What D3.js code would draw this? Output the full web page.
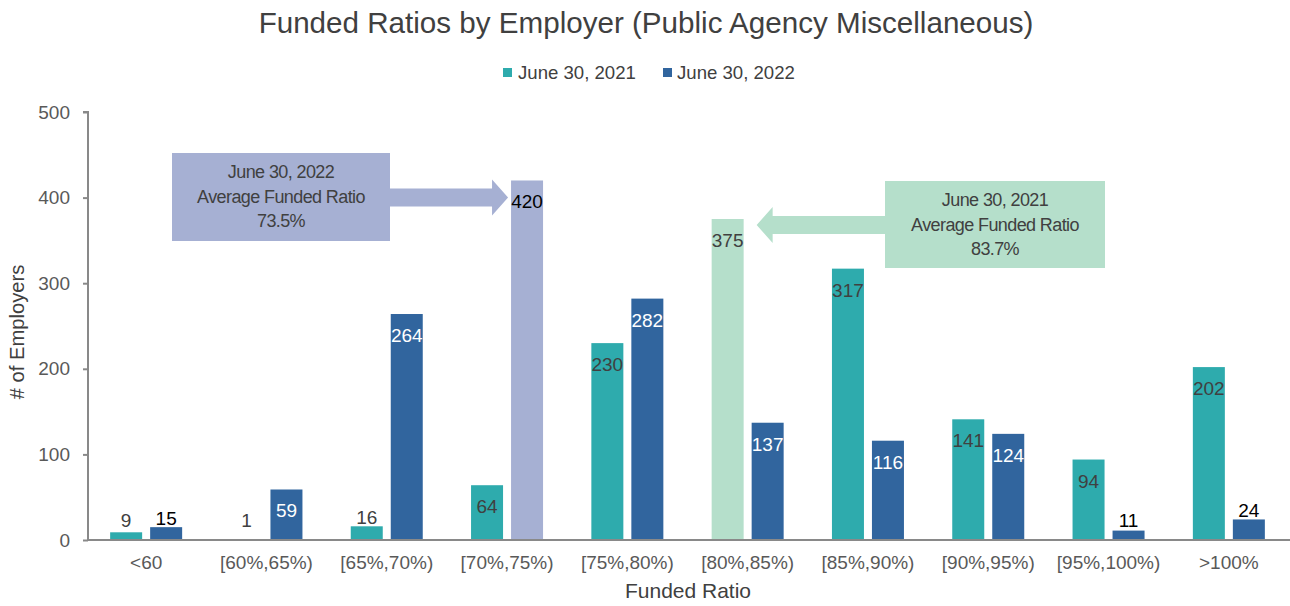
<!DOCTYPE html>
<html>
<head>
<meta charset="utf-8">
<script src="https://cdn.jsdelivr.net/npm/d3@7"></script>
<style>
  body { margin: 0; background: #fff; }
  text { font-family: "Liberation Sans", Arial, sans-serif; }
</style>
</head>
<body>
<div id="chart"></div>
<script>
// données
const categories = ["<60", "[60%,65%)", "[65%,70%)", "[70%,75%)", "[75%,80%)",
                    "[80%,85%)", "[85%,90%)", "[90%,95%)", "[95%,100%)", ">100%"];
const values2021 = [9, 1, 16, 64, 230, 375, 317, 141, 94, 202];
const values2022 = [15, 59, 264, 420, 282, 137, 116, 124, 11, 24];
const seriesNames = ["June 30, 2021", "June 30, 2022"];
const yTicks = [0, 100, 200, 300, 400, 500];

// callouts : catégorie visée, texte
const note2022 = { cat: "[70%,75%)", lines: ["June 30, 2022", "Average Funded Ratio", "73.5%"] };
const note2021 = { cat: "[80%,85%)", lines: ["June 30, 2021", "Average Funded Ratio", "83.7%"] };

const width = 1290, height = 606;
const margin = { top: 112, right: 1, bottom: 66, left: 88 };

const colors = ["#2eabad", "#31659e"];
const lightColors = ["#b5dfcb", "#a6b0d3"];

const svg = d3.select("#chart").append("svg")
  .attr("width", width).attr("height", height);

const x = d3.scaleBand()
  .domain(categories)
  .range([margin.left - 2, width - margin.right]);

const barW = 32, gap = 8;
const groupW = barW * 2 + gap;
const barX = (cat, s) => x(cat) + (x.bandwidth() - groupW) / 2 + s * (barW + gap);

const y = d3.scaleLinear()
  .domain([0, 500])
  .range([height - margin.bottom, margin.top]);

// Titre
svg.append("text")
  .attr("x", 646).attr("y", 33)
  .attr("text-anchor", "middle")
  .attr("font-size", 29.6)
  .attr("fill", "#404040")
  .text("Funded Ratios by Employer (Public Agency Miscellaneous)");

// Légende
const legend = svg.append("g");
[503, 663].forEach((lx, i) => {
  legend.append("rect").attr("x", lx).attr("y", 68).attr("width", 9).attr("height", 9)
    .attr("fill", colors[i]);
  legend.append("text").attr("x", lx + 15 - i).attr("y", 79)
    .attr("font-size", 18.6).attr("fill", "#404040")
    .text(seriesNames[i]);
});

// Barres
const highlight = (s, cat) => (s === 0 && cat === note2021.cat) || (s === 1 && cat === note2022.cat);

[values2021, values2022].forEach((vals, s) => {
  svg.append("g").selectAll("rect")
    .data(vals)
    .join("rect")
    .attr("x", (d, i) => barX(categories[i], s))
    .attr("y", d => y(d))
    .attr("width", barW)
    .attr("height", d => y(0) - y(d))
    .attr("fill", (d, i) => highlight(s, categories[i]) ? lightColors[s] : colors[s]);

  // étiquettes : dans la barre si assez haute, sinon au-dessus
  svg.append("g").selectAll("text")
    .data(vals)
    .join("text")
    .attr("x", (d, i) => barX(categories[i], s) + barW / 2)
    .attr("y", d => d >= 50 ? y(d) + 28 : Math.min(y(d) - 2, y(0) - 13))
    .attr("text-anchor", "middle")
    .attr("font-size", 19)
    .attr("fill", (d, i) => {
      if (d < 50) return s === 0 ? "#404040" : "#000";
      if (highlight(s, categories[i])) return s === 0 ? "#404040" : "#000";
      return s === 0 ? "#404040" : "#fff";
    })
    .text(d => d);
});

// Axes
const yAxis = svg.append("g")
  .attr("transform", `translate(${margin.left},0)`)
  .call(d3.axisLeft(y).tickValues(yTicks).tickSize(5).tickPadding(13));
yAxis.select(".domain").attr("stroke", "#898989").attr("stroke-width", 2)
  .attr("d", `M-5,${y(500)}H0V${y(0)}`);
yAxis.selectAll(".tick line").attr("stroke", "#898989").attr("stroke-width", 2);
yAxis.selectAll(".tick text").attr("font-size", 19).attr("fill", "#595959")
  .style("font-family", "Liberation Sans, Arial, sans-serif");

const xAxis = svg.append("g")
  .attr("transform", `translate(0,${y(0)})`)
  .call(d3.axisBottom(x).tickSize(0).tickPadding(16));
xAxis.select(".domain").attr("stroke", "#898989").attr("stroke-width", 2)
  .attr("d", `M${margin.left},0H${width}`);
xAxis.selectAll(".tick text").attr("font-size", 19).attr("fill", "#595959")
  .style("font-family", "Liberation Sans, Arial, sans-serif");

// Titres des axes
svg.append("text")
  .attr("x", 688).attr("y", 598)
  .attr("text-anchor", "middle").attr("font-size", 21).attr("fill", "#404040")
  .text("Funded Ratio");

svg.append("text")
  .attr("transform", "translate(24,332) rotate(-90)")
  .attr("text-anchor", "middle").attr("font-size", 20.2).attr("fill", "#404040")
  .text("# of Employers");

// Callouts avec flèches
function callout(note, s, box, tipX, tipY, dir) {
  const g = svg.append("g");
  const fill = lightColors[s];
  g.append("rect")
    .attr("x", box.x).attr("y", box.y).attr("width", box.w).attr("height", box.h)
    .attr("fill", fill);
  // flèche
  const start = dir > 0 ? box.x + box.w : box.x;
  const headLen = 16, bodyH = 9, headH = 18;
  const neck = tipX - dir * headLen;
  const pts = [
    [start, tipY - bodyH], [neck, tipY - bodyH], [neck, tipY - headH],
    [tipX, tipY], [neck, tipY + headH], [neck, tipY + bodyH], [start, tipY + bodyH]
  ];
  g.append("path").attr("d", d3.line()(pts) + "Z").attr("fill", fill);
  const cx = box.x + box.w / 2;
  note.lines.forEach((t, i) => {
    g.append("text")
      .attr("x", cx).attr("y", box.y + 25 + i * 24.5)
      .attr("text-anchor", "middle")
      .attr("font-size", 18)
      .attr("letter-spacing", -0.6)
      .attr("fill", "#404040")
      .text(t);
  });
}

callout(note2022, 1, { x: 172, y: 153, w: 218, h: 88 },
  barX(note2022.cat, 1) - 3, y(400), 1);
callout(note2021, 0, { x: 885, y: 181, w: 220, h: 87 },
  barX(note2021.cat, 0) + barW + 13, y(368), -1);
</script>
</body>
</html>
